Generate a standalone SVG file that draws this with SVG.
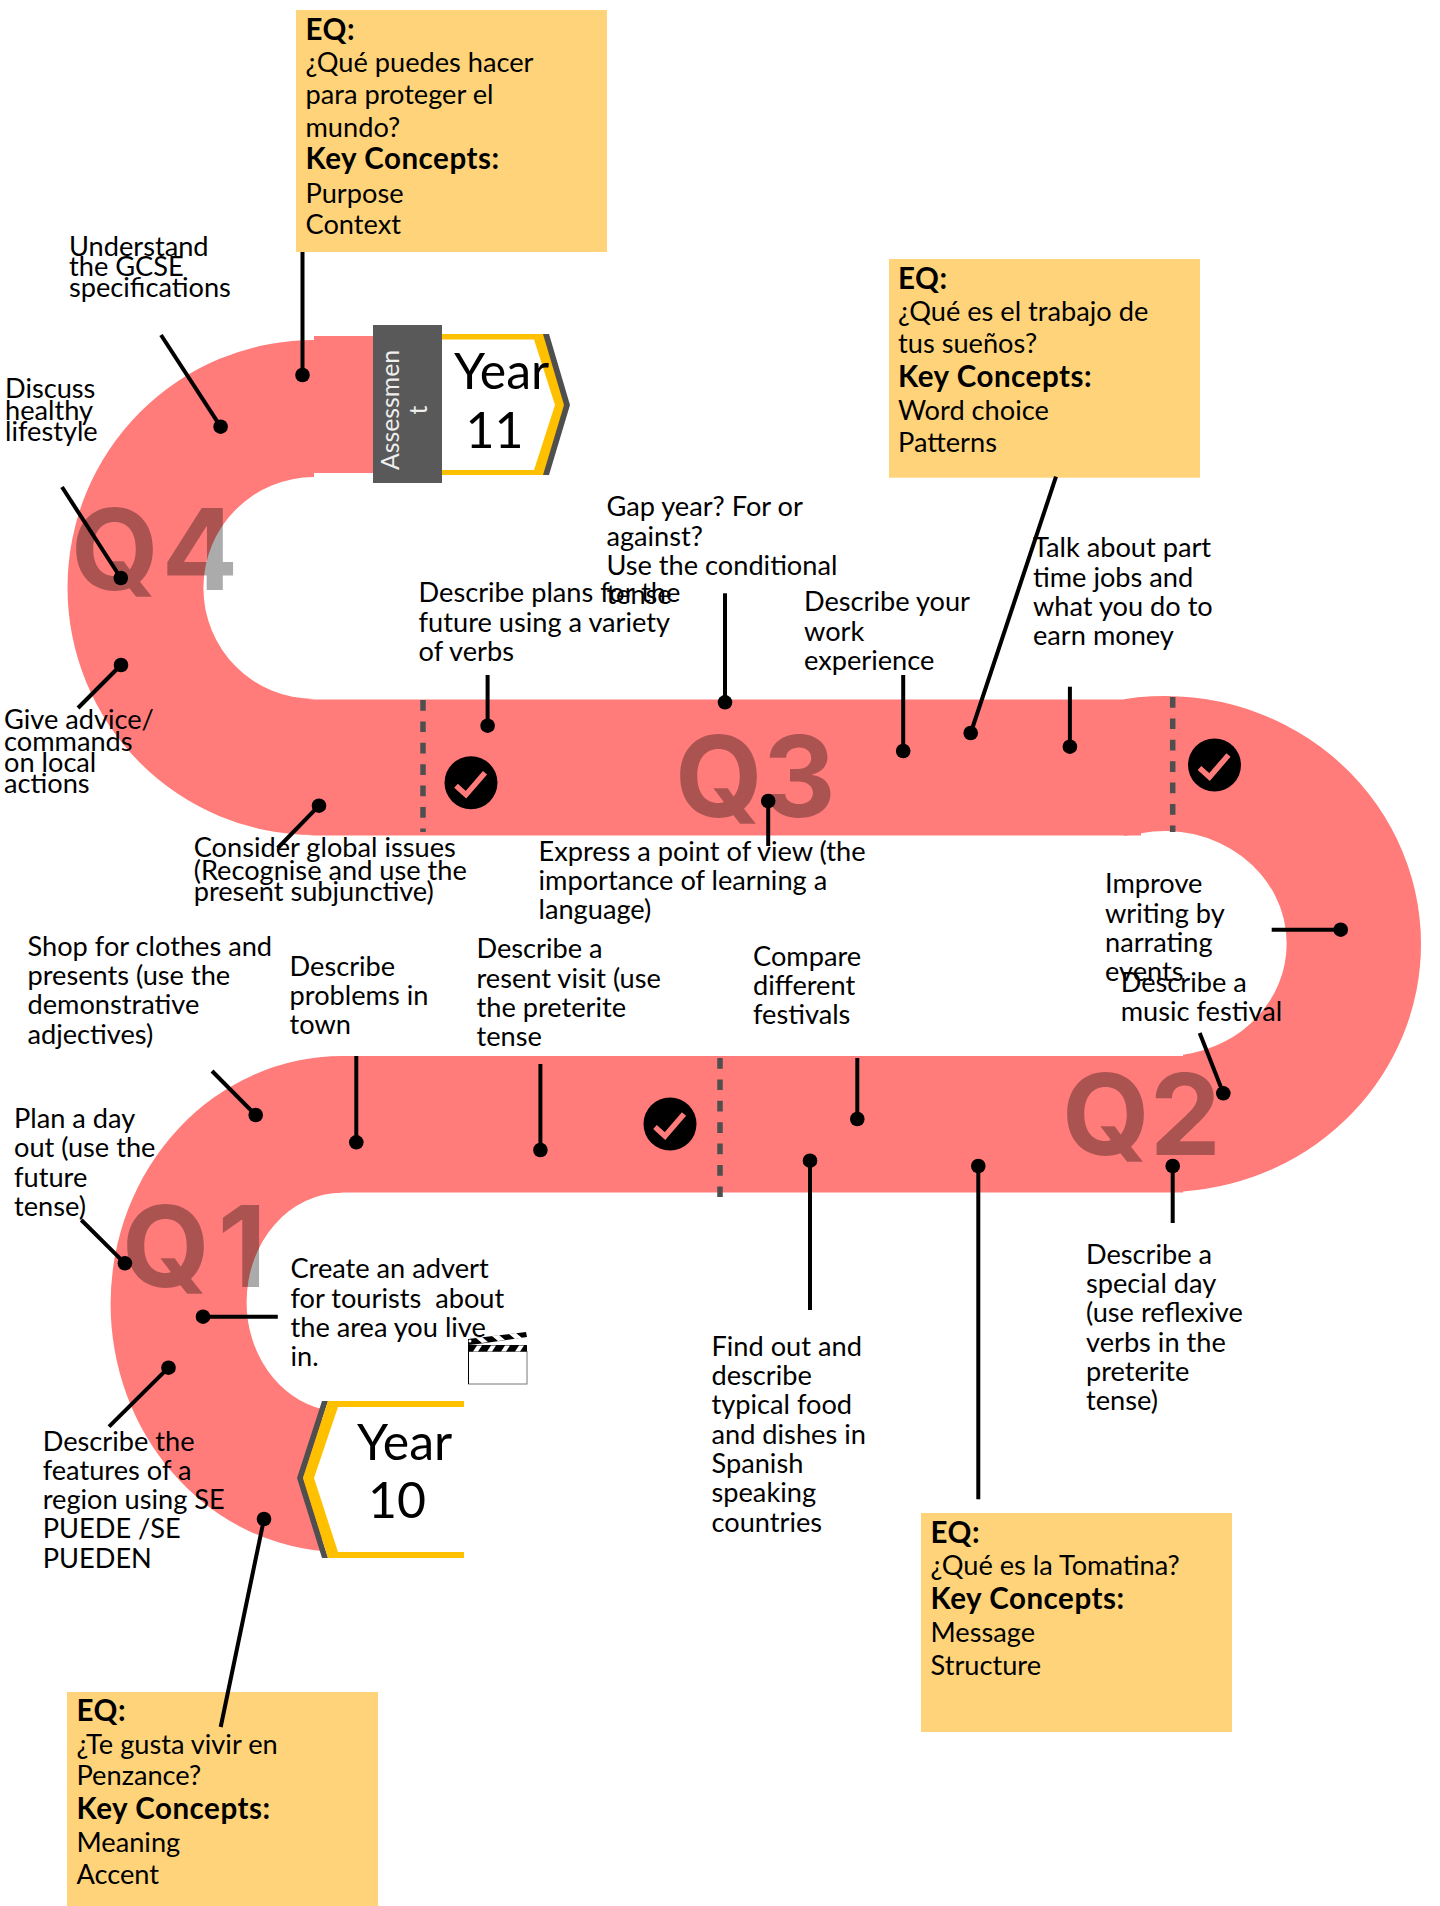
<svg xmlns="http://www.w3.org/2000/svg" width="1440" height="1906" viewBox="0 0 1440 1906">
<style>
text{font-family:"Lato","Noto Sans",sans-serif;fill:#000;font-size:27.2px}
.b{font-weight:700;font-size:29.5px;letter-spacing:.55px}
.box{fill:#FFD379}
.road{fill:#FF7C7A}
.c line{stroke:#000;stroke-width:4}
.c circle{fill:#000;r:7.3px}
.q{font-family:"Inter","Noto Sans",sans-serif;font-size:113px;font-weight:700;fill:#000;fill-opacity:.33}
.dash{stroke:#4F4F4F;stroke-width:5.5;stroke-dasharray:10.7 10.7;fill:none}
.y{font-size:50px}
.a{fill:#eee;font-size:24.8px}
.chk{fill:none;stroke:#FF7C7A;stroke-width:5.5}
</style>
<defs>
<g id="tick"><circle r="26.5" fill="#000"/><path class="chk" d="M-15 3L-5 12L14-10"/></g>
</defs>
<rect width="1440" height="1906" fill="#fff"/>
<g id="road">
<path class="road" d="M314 340A246.500 247.500 0 0 0 314 835L308 835.500H1141V699.500H308L314 699A110.600 111 0 0 1 314 477V473H373V336H314Z"/>
<path class="road" d="M1124 699.200A256 248 0 0 1 1421 944A256 248 0 0 1 1183 1191.400V1054.800A121.700 112.500 0 0 0 1286.700 943.500A121.700 112.500 0 0 0 1141 833.200L1124 836Z"/>
<rect class="road" x="342" y="1056" width="841" height="136.500"/>
<path class="road" d="M342 1056A231.400 248 0 0 0 110.600 1304A231.400 248 0 0 0 322 1551V1409A95.400 109.300 0 0 1 246.600 1302A95.400 109.300 0 0 1 342 1192.700Z"/>
</g>
<g id="quarters">
<text class="q" x="71" y="590" letter-spacing="3">Q4</text>
<text class="q" x="675" y="817">Q3</text>
<text class="q" x="1062" y="1155">Q2</text>
<text class="q" x="122" y="1287">Q<tspan dx="8">1</tspan></text>
</g>
<g id="dividers">
<line class="dash" x1="423" y1="700" x2="423" y2="832"/>
<line class="dash" x1="1172.700" y1="697" x2="1172.700" y2="832"/>
<line class="dash" x1="720" y1="1058" x2="720" y2="1197"/>
</g>
<g id="checks">
<use href="#tick" x="471" y="782.700"/>
<use href="#tick" x="1214.500" y="765"/>
<use href="#tick" x="670" y="1124"/>
</g>
<g id="year11">
<polygon fill="#4F4F4F" points="543,334 549,334 570,405 549,475 543,475"/>
<polygon fill="#FFC000" points="442,334 543,334 564,405 543,475 442,475"/>
<polygon fill="#fff" points="442,339.500 534,339.500 555,405 534,470 442,470"/>
<text class="y" x="454" y="389">Year</text>
<text class="y" x="465.500" y="448">11</text>
</g>
<g id="assessment">
<rect x="373" y="325" width="69" height="158" fill="#595959"/>
<text class="a" transform="translate(398.500 410) rotate(-90)" text-anchor="middle">Assessmen</text>
<text class="a" transform="translate(426.500 410) rotate(-90)" text-anchor="middle">t</text>
</g>
<g id="year10">
<polygon fill="#4F4F4F" points="322,1401 328,1401 303,1478 328,1558 322,1558 297,1478"/>
<polygon fill="#FFC000" points="328,1401 464,1401 464,1558 328,1558 303,1478"/>
<polygon fill="#fff" points="338,1407 464,1407 464,1552 338,1552 314,1478"/>
<text class="y" x="357" y="1460">Year</text>
<text class="y" x="368" y="1518">10</text>
</g>
<g id="eq-q4">
<rect class="box" x="296" y="10" width="311" height="242"/>
<text x="305.500" y="39.500" class="b">EQ:</text>
<text x="305.500" y="71.700">¿Qué puedes hacer</text>
<text x="305.500" y="104">para proteger el</text>
<text x="305.500" y="137">mundo?</text>
<text x="305.500" y="169" class="b">Key Concepts:</text>
<text x="305.500" y="202.500">Purpose</text>
<text x="305.500" y="234">Context</text>
</g>
<g id="eq-q3">
<rect class="box" x="889" y="259" width="311" height="218.700"/>
<text x="898" y="288.500" class="b">EQ:</text>
<text x="898" y="320.700">¿Qué es el trabajo de</text>
<text x="898" y="353">tus sueños?</text>
<text x="898" y="386.500" class="b">Key Concepts:</text>
<text x="898" y="419.700">Word choice</text>
<text x="898" y="452">Patterns</text>
</g>
<g id="eq-q2">
<rect class="box" x="921" y="1513" width="311" height="219"/>
<text x="930.500" y="1543" class="b">EQ:</text>
<text x="930.500" y="1575">¿Qué es la Tomatina?</text>
<text x="930.500" y="1609" class="b">Key Concepts:</text>
<text x="930.500" y="1641.700">Message</text>
<text x="930.500" y="1675">Structure</text>
</g>
<g id="eq-q1">
<rect class="box" x="67" y="1692" width="311" height="214"/>
<text x="76.500" y="1721" class="b">EQ:</text>
<text x="76.500" y="1753.700">¿Te gusta vivir en</text>
<text x="76.500" y="1785">Penzance?</text>
<text x="76.500" y="1818.700" class="b">Key Concepts:</text>
<text x="76.500" y="1852">Meaning</text>
<text x="76.500" y="1883.700">Accent</text>
</g>
<g id="connectors" class="c">
<line x1="302.500" y1="252" x2="302.500" y2="375"/><circle cx="302.500" cy="375"/>
<line x1="161" y1="335" x2="220.600" y2="426.700"/><circle cx="220.600" cy="426.700"/>
<line x1="62" y1="487" x2="120.800" y2="578"/><circle cx="120.800" cy="578"/>
<line x1="78" y1="708" x2="121" y2="665"/><circle cx="121" cy="665"/>
<line x1="277.800" y1="848" x2="319" y2="805.700"/><circle cx="319" cy="805.700"/>
<line x1="487.600" y1="675" x2="487.600" y2="725.700"/><circle cx="487.600" cy="725.700"/>
<line x1="725" y1="593.300" x2="725" y2="702.300"/><circle cx="725" cy="702.300"/>
<line x1="903.200" y1="675" x2="903.200" y2="751"/><circle cx="903.200" cy="751"/>
<line x1="1056" y1="476.700" x2="970.700" y2="733"/><circle cx="970.700" cy="733"/>
<line x1="1069.900" y1="686.700" x2="1069.900" y2="746.700"/><circle cx="1069.900" cy="746.700"/>
<line x1="768.200" y1="846" x2="768.200" y2="801"/><circle cx="768.200" cy="801"/>
<line x1="1271.700" y1="929.700" x2="1340.700" y2="929.700"/><circle cx="1340.700" cy="929.700"/>
<line x1="1199.700" y1="1033" x2="1223.300" y2="1093.300"/><circle cx="1223.300" cy="1093.300"/>
<line x1="1172.700" y1="1223" x2="1172.700" y2="1166"/><circle cx="1172.700" cy="1166"/>
<line x1="857.300" y1="1058" x2="857.300" y2="1119"/><circle cx="857.300" cy="1119"/>
<line x1="810" y1="1310" x2="810" y2="1160.700"/><circle cx="810" cy="1160.700"/>
<line x1="978.300" y1="1499.300" x2="978.300" y2="1166"/><circle cx="978.300" cy="1166"/>
<line x1="540.400" y1="1064" x2="540.400" y2="1150"/><circle cx="540.400" cy="1150"/>
<line x1="356.300" y1="1056" x2="356.300" y2="1142.300"/><circle cx="356.300" cy="1142.300"/>
<line x1="212" y1="1071" x2="255.700" y2="1115"/><circle cx="255.700" cy="1115"/>
<line x1="81.300" y1="1220" x2="124.900" y2="1263.300"/><circle cx="124.900" cy="1263.300"/>
<line x1="277.800" y1="1316.700" x2="203" y2="1316.700"/><circle cx="203" cy="1316.700"/>
<line x1="109" y1="1426.700" x2="168.500" y2="1367.700"/><circle cx="168.500" cy="1367.700"/>
<line x1="220.700" y1="1727" x2="264" y2="1519"/><circle cx="264" cy="1519"/>
</g>
<g id="clapper">
<rect x="468.500" y="1351.500" width="58.500" height="32.500" fill="#fff" stroke="#777" stroke-width="1"/>
<path d="M468.500 1351V1384" stroke="#000" stroke-width="1"/>
<rect x="468" y="1345" width="59" height="6.500" fill="#000"/>
<path fill="#fff" d="M473 1351.500l4-6h5l-4 6zM487 1351.500l4-6h5l-4 6zM501 1351.500l4-6h5l-4 6zM515 1351.500l4-6h5l-4 6z"/>
<polygon fill="#000" points="468,1339 476,1338 526,1332 527,1337 478,1344 468,1345"/>
<path fill="#fff" d="M476 1338l6 5 6-1-6-5zM492 1336l6 5 7-1-6-5zM509 1334l6 5 7-1-6-5z"/>
<circle cx="470" cy="1341" r="1.500" fill="#fff"/>
</g>
<g id="labels" transform="translate(-1 .6)">
<g id="label-gcse"><text x="70" y="255">Understand</text><text x="70" y="275.700">the GCSE</text><text x="70" y="296.700">specifications</text></g>
<g id="label-health"><text x="6" y="397.700">Discuss</text><text x="6" y="419">healthy</text><text x="6" y="440">lifestyle</text></g>
<g id="label-advice"><text x="5" y="728">Give advice/</text><text x="5" y="750.700">commands</text><text x="5" y="771.700">on local</text><text x="5" y="792.700">actions</text></g>
<g id="label-global"><text x="194.700" y="856.700">Consider global issues</text><text x="194.700" y="879">(Recognise and use the</text><text x="194.700" y="900">present subjunctive)</text></g>
<g id="label-plans"><text x="419.600" y="601.700">Describe plans for the</text><text x="419.600" y="631">future using a variety</text><text x="419.600" y="660">of verbs</text></g>
<g id="label-gap"><text x="607.400" y="515.700">Gap year? For or</text><text x="607.400" y="545">against?</text><text x="607.400" y="574.300">Use the conditional</text><text x="607.400" y="603.300">tense</text></g>
<g id="label-view"><text x="539.500" y="860">Express a point of view (the</text><text x="539.500" y="889.300">importance of learning a</text><text x="539.500" y="918.300">language)</text></g>
<g id="label-work"><text x="805" y="610.700">Describe your</text><text x="805" y="640">work</text><text x="805" y="669.300">experience</text></g>
<g id="label-jobs"><text x="1034" y="556.700">Talk about part</text><text x="1034" y="586">time jobs and</text><text x="1034" y="615.300">what you do to</text><text x="1034" y="644.300">earn money</text></g>
<g id="label-writing"><text x="1106" y="892.700">Improve</text><text x="1106" y="922">writing by</text><text x="1106" y="951.700">narrating</text><text x="1106" y="980.700">events</text></g>
<g id="label-music"><text x="1121.700" y="991.700">Describe a</text><text x="1121.700" y="1020.700">music festival</text></g>
<g id="label-day"><text x="1087" y="1263">Describe a</text><text x="1087" y="1292.400">special day</text><text x="1087" y="1321.700">(use reflexive</text><text x="1087" y="1351">verbs in the</text><text x="1087" y="1380">preterite</text><text x="1087" y="1409.700">tense)</text></g>
<g id="label-food"><text x="712.500" y="1355">Find out and</text><text x="712.500" y="1384.300">describe</text><text x="712.500" y="1413.700">typical food</text><text x="712.500" y="1443.300">and dishes in</text><text x="712.500" y="1472.700">Spanish</text><text x="712.500" y="1501.700">speaking</text><text x="712.500" y="1531.300">countries</text></g>
<g id="label-festivals"><text x="754" y="965">Compare</text><text x="754" y="994">different</text><text x="754" y="1023.300">festivals</text></g>
<g id="label-visit"><text x="477.500" y="957.700">Describe a</text><text x="477.500" y="987">resent visit (use</text><text x="477.500" y="1016.700">the preterite</text><text x="477.500" y="1045.700">tense</text></g>
<g id="label-problems"><text x="290.600" y="975">Describe</text><text x="290.600" y="1004">problems in</text><text x="290.600" y="1033.300">town</text></g>
<g id="label-shop"><text x="28.500" y="955">Shop for clothes and</text><text x="28.500" y="984.300">presents (use the</text><text x="28.500" y="1013.700">demonstrative</text><text x="28.500" y="1043">adjectives)</text></g>
<g id="label-plan"><text x="15" y="1127.300">Plan a day</text><text x="15" y="1156.700">out (use the</text><text x="15" y="1186">future</text><text x="15" y="1215.300">tense)</text></g>
<g id="label-advert"><text x="291.500" y="1277.700">Create an advert</text><text x="291.500" y="1307" xml:space="preserve">for tourists  about</text><text x="291.500" y="1336.300">the area you live</text><text x="291.500" y="1365.700">in.</text></g>
<g id="label-region"><text x="43.700" y="1450">Describe the</text><text x="43.700" y="1479.300">features of a</text><text x="43.700" y="1508.700">region using SE</text><text x="43.700" y="1537.700">PUEDE /SE</text><text x="43.700" y="1567">PUEDEN</text></g>
</g>
</svg>
